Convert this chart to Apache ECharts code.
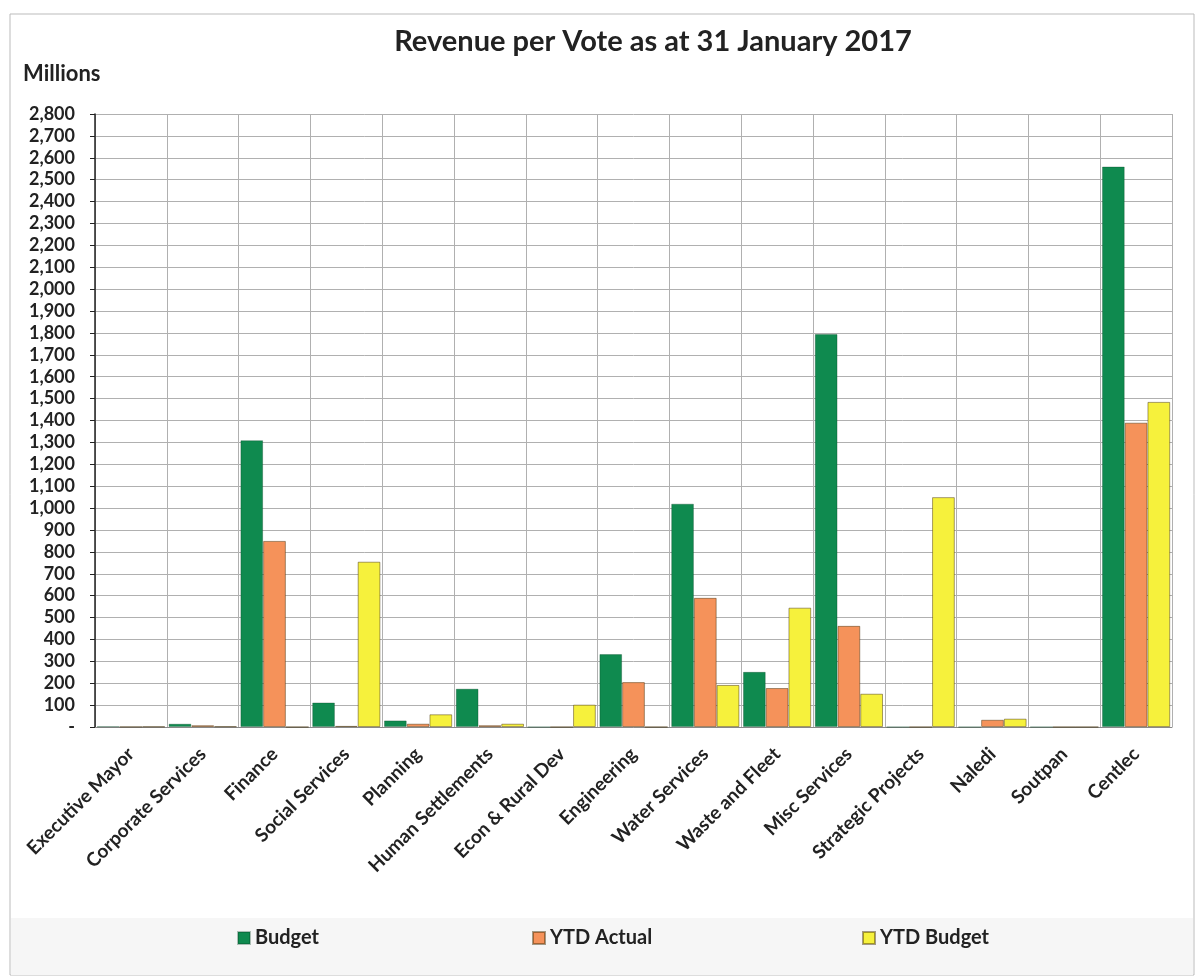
<!DOCTYPE html>
<html>
<head>
<meta charset="utf-8">
<script src="https://cdn.jsdelivr.net/npm/echarts@6/dist/echarts.min.js"></script>
<style>html,body{margin:0;padding:0;background:#fff;}#c{width:1199px;height:976px;}</style>
</head>
<body>
<div id="c"></div>
<script>
const categories = ["Executive Mayor","Corporate Services","Finance","Social Services","Planning","Human Settlements","Econ & Rural Dev","Engineering","Water Services","Waste and Fleet","Misc Services","Strategic Projects","Naledi","Soutpan","Centlec"];
const budget    = [3, 15, 1310, 112, 30, 175, 0, 333, 1020, 252, 1795, 0, 0, 0, 2560];
const ytdActual = [1, 8, 850, 5, 15, 8, 0, 205, 590, 178, 462, 0, 33, 0, 1390];
const ytdBudget = [2, 3, 0, 755, 58, 15, 102, 0, 192, 545, 152, 1050, 38, 0, 1485];
const seriesNames = ["Budget","YTD Actual","YTD Budget"];
const yMin = 0, yMax = 2800, yStep = 100;

const FONT = 'Lato, "Open Sans", sans-serif';
const colors = ['#0f8a4f', '#f5925a', '#f6f13c'];
const chart = echarts.init(document.getElementById('c'));
const mk = (name, data, i) => ({
  name, type: 'bar', data,
  barGap: '0%', barCategoryGap: '5%',
  itemStyle: { color: colors[i], borderColor: i === 0 ? 'rgba(0,60,30,0.3)' : 'rgba(60,40,0,0.45)', borderWidth: 1 }
});
const legendBase = (name, left) => ({
  data: [name], left, top: 928, padding: 0, itemWidth: 12, itemHeight: 12, icon: 'rect',
  textStyle: { fontFamily: FONT, fontWeight: 'bold', fontSize: 20, color: '#222', lineHeight: 20 }
});
chart.setOption({
  backgroundColor: '#fff',
  color: colors,
  animation: false,
  graphic: [
    { type: 'rect', shape: { x: 10, y: 14, width: 1184, height: 961 }, style: { fill: 'none', stroke: '#bbb', lineWidth: 1 }, z: -10 },
    { type: 'rect', shape: { x: 11, y: 918, width: 1182, height: 57 }, style: { fill: '#f6f6f6' }, z: -9 }
  ],
  title: {
    text: 'Revenue per Vote as at 31 January 2017',
    left: 648, top: 22, textAlign: 'center',
    textStyle: { fontFamily: FONT, fontWeight: 'bold', fontSize: 29, color: '#222' }
  },
  legend: [
    legendBase(seriesNames[0], 237),
    legendBase(seriesNames[1], 532),
    legendBase(seriesNames[2], 862)
  ],
  grid: { left: 95, right: 27, top: 114, bottom: 249, containLabel: false },
  xAxis: {
    type: 'category', data: categories,
    axisLine: { show: true, lineStyle: { color: '#888' } },
    axisTick: { show: false },
    splitLine: { show: true, lineStyle: { color: '#b0b0b0', width: 1 } },
    axisLabel: { rotate: 45, interval: 0, margin: 24, fontFamily: FONT, fontWeight: 'bold', fontSize: 19, color: '#222' }
  },
  yAxis: {
    type: 'value', min: yMin, max: yMax, interval: yStep,
    name: 'Millions', nameLocation: 'end', nameGap: 29,
    nameTextStyle: { fontFamily: FONT, fontWeight: 'bold', fontSize: 22, color: '#222', align: 'left', padding: [0, 0, 0, -72] },
    axisLine: { show: true, lineStyle: { color: '#222', width: 1.5 } },
    axisTick: { show: true, length: 5, lineStyle: { color: '#222' } },
    splitLine: { show: true, lineStyle: { color: '#b0b0b0', width: 1 } },
    axisLabel: {
      margin: 20, fontFamily: FONT, fontWeight: 'bold', fontSize: 18, color: '#222',
      formatter: v => v === 0 ? '-' : v.toLocaleString('en-US')
    }
  },
  series: [mk(seriesNames[0], budget, 0), mk(seriesNames[1], ytdActual, 1), mk(seriesNames[2], ytdBudget, 2)]
});
</script>
</body>
</html>
